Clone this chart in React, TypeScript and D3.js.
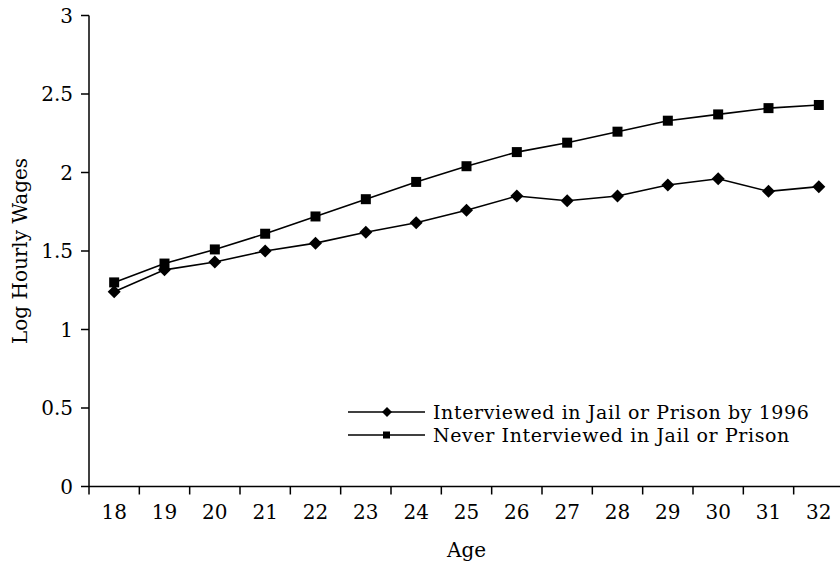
import React from "react";
import * as d3 from "d3";

const ages = ["18","19","20","21","22","23","24","25","26","27","28","29","30","31","32"];
const jailValues = [1.24,1.38,1.43,1.50,1.55,1.62,1.68,1.76,1.85,1.82,1.85,1.92,1.96,1.88,1.91];
const neverValues = [1.30,1.42,1.51,1.61,1.72,1.83,1.94,2.04,2.13,2.19,2.26,2.33,2.37,2.41,2.43];
const yTicks = [0,0.5,1,1.5,2,2.5,3];
const yTickLabels = ["0","0.5","1","1.5","2","2.5","3"];
const seriesNames = ["Interviewed in Jail or Prison by 1996","Never Interviewed in Jail or Prison"];

const FONT = "'DejaVu Serif', serif";

export default function App() {
  const W = 840, H = 567;
  const left = 89, right = 844, top = 15.5, bottom = 486.5;
  const x = d3.scaleBand<string>().domain(ages).range([left, right]);
  const y = d3.scaleLinear().domain([0, 3]).range([bottom, top]);
  const cx = (a: string) => (x(a) as number) + x.bandwidth() / 2;
  const line = d3.line<number>().x((_, i) => cx(ages[i])).y((d) => y(d));
  const diamond = (px: number, py: number, r: number) =>
    `M${px},${py - r}L${px + r},${py}L${px},${py + r}L${px - r},${py}Z`;
  const boundaries = ages.map((a) => x(a) as number).concat([right]);

  return (
    <svg width={W} height={H} style={{ position: "absolute", left: 0, top: 0, background: "#fff" }} fontFamily={FONT}>
      <rect x={0} y={0} width={W} height={H} fill="#fff" />
      {/* axes */}
      <line x1={left} y1={top} x2={left} y2={bottom} stroke="#000" strokeWidth={1.5} />
      <line x1={left} y1={bottom} x2={W} y2={bottom} stroke="#000" strokeWidth={1.5} />
      {yTicks.map((t, i) => (
        <g key={t}>
          <line x1={left - 8} x2={left} y1={y(t)} y2={y(t)} stroke="#000" strokeWidth={1.5} />
          <text x={left - 16} y={y(t)} dy="0.36em" textAnchor="end" fontSize={20}>{yTickLabels[i]}</text>
        </g>
      ))}
      {boundaries.map((b, i) => (
        <line key={i} x1={b} x2={b} y1={bottom} y2={bottom + 8} stroke="#000" strokeWidth={1.5} />
      ))}
      {ages.map((a) => (
        <text key={a} x={cx(a)} y={519} textAnchor="middle" fontSize={20}>{a}</text>
      ))}
      <text x={(left + right) / 2} y={557} textAnchor="middle" fontSize={20}>Age</text>
      <text transform={`translate(27,251) rotate(-90)`} textAnchor="middle" fontSize={20}>Log Hourly Wages</text>
      {/* series */}
      <path d={line(jailValues) ?? ""} fill="none" stroke="#000" strokeWidth={1.6} />
      <path d={line(neverValues) ?? ""} fill="none" stroke="#000" strokeWidth={1.6} />
      {jailValues.map((v, i) => (
        <path key={"d" + i} d={diamond(cx(ages[i]), y(v), 6.5)} fill="#000" />
      ))}
      {neverValues.map((v, i) => (
        <rect key={"s" + i} x={cx(ages[i]) - 5} y={y(v) - 5} width={10} height={10} fill="#000" />
      ))}
      {/* legend */}
      <line x1={348} x2={425} y1={412} y2={412} stroke="#000" strokeWidth={1.5} />
      <path d={diamond(387, 412, 5)} fill="#000" />
      <text x={433} y={412} dy="0.36em" fontSize={19} letterSpacing={0.6}>{seriesNames[0]}</text>
      <line x1={348} x2={425} y1={435} y2={435} stroke="#000" strokeWidth={1.5} />
      <rect x={383} y={431.5} width={7} height={7} fill="#000" />
      <text x={433} y={435} dy="0.36em" fontSize={19} letterSpacing={0.6}>{seriesNames[1]}</text>
    </svg>
  );
}
